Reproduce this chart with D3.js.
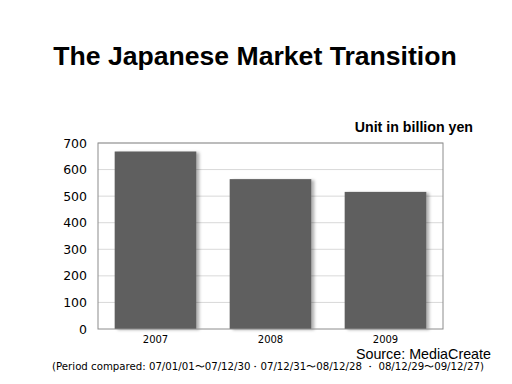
<!DOCTYPE html>
<html>
<head>
<meta charset="utf-8">
<script src="https://cdn.jsdelivr.net/npm/d3@7"></script>
<style>
  body { margin: 0; background: #fff; }
  svg { display: block; }
</style>
</head>
<body>
<div id="chart"></div>
<script>
const years = ['2007', '2008', '2009'];
const sales = [668, 564, 516];
const yTicks = [0, 100, 200, 300, 400, 500, 600, 700];

const width = 512, height = 384;
const margin = {top: 143, right: 69, bottom: 55, left: 98};

const svg = d3.select('#chart').append('svg')
    .attr('width', width)
    .attr('height', height);

const defs = svg.append('defs');
const blur = defs.append('filter').attr('id', 'shadow')
    .attr('x', '-10%').attr('y', '-10%').attr('width', '130%').attr('height', '130%');
blur.append('feDropShadow')
    .attr('dx', 3).attr('dy', 1).attr('stdDeviation', 1.5)
    .attr('flood-color', '#000').attr('flood-opacity', 0.3);

const x = d3.scaleBand()
    .domain(years)
    .range([margin.left, width - margin.right])
    .paddingInner(0.29)
    .paddingOuter(0.145);

const y = d3.scaleLinear()
    .domain([0, 700])
    .range([height - margin.bottom, margin.top]);

// title
svg.append('text')
    .attr('x', 255).attr('y', 65)
    .attr('text-anchor', 'middle')
    .attr('font-family', 'Liberation Sans, Arial, sans-serif')
    .attr('font-weight', 'bold')
    .attr('font-size', 26.6)
    .text('The Japanese Market Transition');

svg.append('text')
    .attr('x', 473).attr('y', 132)
    .attr('text-anchor', 'end')
    .attr('font-family', 'Liberation Sans, Arial, sans-serif')
    .attr('font-weight', 'bold')
    .attr('font-size', 14.2)
    .text('Unit in billion yen');

// grid
svg.append('g')
    .selectAll('line')
    .data(yTicks.slice(1))
    .join('line')
    .attr('x1', margin.left).attr('x2', width - margin.right)
    .attr('y1', d => y(d)).attr('y2', d => y(d))
    .attr('stroke', '#d9d9d9')
    .attr('stroke-width', 1);

// bars
svg.append('g')
    .selectAll('rect')
    .data(sales)
    .join('rect')
    .attr('x', (d, i) => x(years[i]))
    .attr('y', d => y(d))
    .attr('width', x.bandwidth())
    .attr('height', d => y(0) - y(d))
    .attr('fill', '#5e5e5e')
    .attr('filter', 'url(#shadow)');

// frame
svg.append('rect')
    .attr('x', margin.left).attr('y', margin.top)
    .attr('width', width - margin.right - margin.left)
    .attr('height', height - margin.bottom - margin.top)
    .attr('fill', 'none')
    .attr('stroke', '#8c8c8c')
    .attr('stroke-width', 1);

// y axis
const yAxis = svg.append('g')
    .attr('transform', `translate(${margin.left},0)`)
    .call(d3.axisLeft(y).tickValues(yTicks).tickSize(0).tickPadding(11));
yAxis.select('.domain').remove();
yAxis.selectAll('text')
    .attr('font-family', 'DejaVu Sans, sans-serif')
    .attr('font-size', 12.5)
    .attr('fill', '#000');

// x axis
const xAxis = svg.append('g')
    .attr('transform', `translate(0,${height - margin.bottom})`)
    .call(d3.axisBottom(x).tickSize(0).tickPadding(7));
xAxis.select('.domain').remove();
xAxis.selectAll('text')
    .attr('font-family', 'DejaVu Sans, sans-serif')
    .attr('font-size', 10)
    .attr('fill', '#000');

svg.append('text')
    .attr('x', 491).attr('y', 359)
    .attr('text-anchor', 'end')
    .attr('font-family', 'Liberation Sans, Arial, sans-serif')
    .attr('font-size', 14.3)
    .text('Source: MediaCreate');

svg.append('text')
    .attr('x', 268).attr('y', 370)
    .attr('text-anchor', 'middle')
    .attr('font-family', 'DejaVu Sans, sans-serif')
    .attr('font-size', 10.2)
    .text('(Period compared: 07/01/01〜07/12/30・07/12/31〜08/12/28 ・ 08/12/29〜09/12/27)');
</script>
</body>
</html>
